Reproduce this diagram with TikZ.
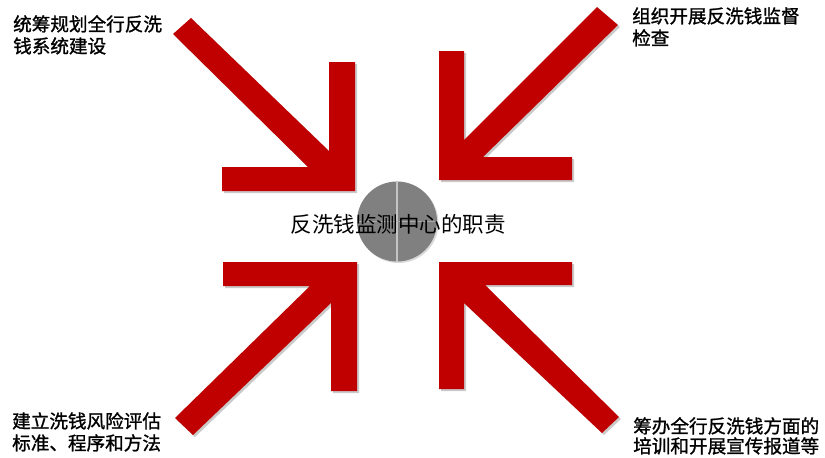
\documentclass[tikz,border=0pt]{standalone}
\usepackage{fontspec}
\newfontfamily\cjk{Noto Sans CJK SC}
\newfontfamily\cjkb[FakeBold=1.2]{Noto Sans CJK SC}
\usetikzlibrary{shadows}
\definecolor{arrowred}{HTML}{C00000}
\definecolor{discgray}{HTML}{808080}
\definecolor{discline}{HTML}{C4C4C4}
\tikzset{
  redarrow/.style={fill=arrowred, draw=none,
    drop shadow={shadow xshift=2pt, shadow yshift=-2pt, opacity=0.35, fill=black!60}},
  lbl/.style={font=\cjkb\fontsize{18.6}{22}\selectfont, anchor=base west, inner sep=0pt, text=black},
  ctitle/.style={font=\cjk\fontsize{21.5}{24}\selectfont, anchor=base, inner sep=0pt, text=black}
}
\begin{document}
\begin{tikzpicture}[x=1pt,y=-1pt]
\useasboundingbox (0,0) rectangle (825,458);
% top-left arrow
\path[redarrow] (173,34) -- (191,18) -- (329,151) -- (329,62) -- (355,62) -- (355,191)
  -- (222,191) -- (222,167) -- (308,167) -- cycle;
% top-right arrow
\path[redarrow] (597,7) -- (618,25) -- (483,157) -- (572,157) -- (572,180) -- (439,180)
  -- (439,51) -- (464,51) -- (464,140) -- cycle;
% bottom-right arrow
\path[redarrow] (619,417) -- (485,285) -- (572,285) -- (572,262) -- (439,262) -- (439,389)
  -- (464,389) -- (464,303) -- (602,433) -- cycle;
% bottom-left arrow
\path[redarrow] (175,418) -- (310,286) -- (223,286) -- (223,262) -- (357,262) -- (357,391)
  -- (331,391) -- (331,303) -- (193,435) -- cycle;
% centre disc
\node (disc) [circle, minimum size=80pt, inner sep=0pt, fill=discgray,
  drop shadow={shadow xshift=1.5pt, shadow yshift=-1.5pt, opacity=0.3, fill=black!50}] at (397,221.5) {};
\draw[discline, line width=1.6pt] (disc.north) -- (disc.south);
\draw[discline!60!discgray, line width=1pt] (disc.west) -- (disc.east);
\node (title) [ctitle] at (398,232.5) {反洗钱监测中心的职责};
% labels
\node (tl1) [lbl] at (13,31) {统筹规划全行反洗};
\node (tl2) [lbl] at (13,53) {钱系统建设};
\node (tr1) [lbl] at (632,23) {组织开展反洗钱监督};
\node (tr2) [lbl] at (632,45) {检查};
\node (bl1) [lbl] at (12,428) {建立洗钱风险评估};
\node (bl2) [lbl] at (12,450) {标准、程序和方法};
\node (br1) [lbl] at (633,433) {筹办全行反洗钱方面的};
\node (br2) [lbl] at (633,453) {培训和开展宣传报道等};
\end{tikzpicture}
\end{document}
